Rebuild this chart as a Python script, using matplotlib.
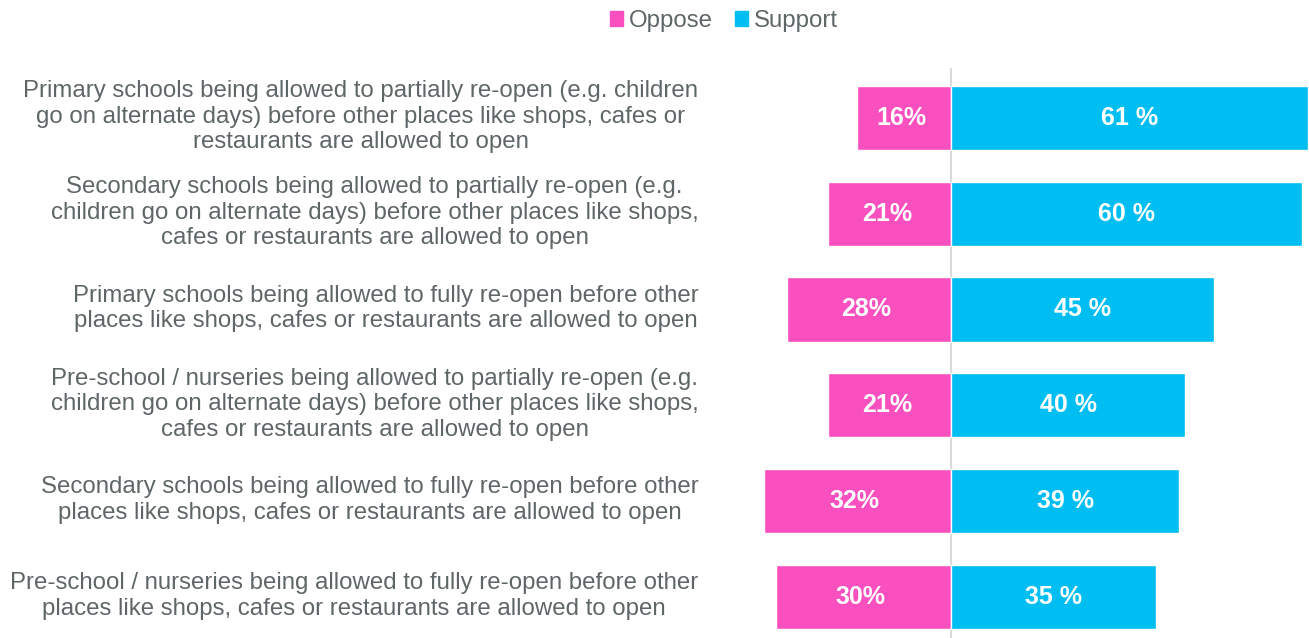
import matplotlib
matplotlib.use('Agg')
import matplotlib.pyplot as plt
from matplotlib.patches import Patch

plt.rcParams['font.family'] = ['Liberation Sans', 'DejaVu Sans']

labels = [
    "Primary schools being allowed to partially re-open (e.g. children\ngo on alternate days) before other places like shops, cafes or\nrestaurants are allowed to open",
    "Secondary schools being allowed to partially re-open (e.g.\nchildren go on alternate days) before other places like shops,\ncafes or restaurants are allowed to open",
    "Primary schools being allowed to fully re-open before other\nplaces like shops, cafes or restaurants are allowed to open",
    "Pre-school / nurseries being allowed to partially re-open (e.g.\nchildren go on alternate days) before other places like shops,\ncafes or restaurants are allowed to open",
    "Secondary schools being allowed to fully re-open before other\nplaces like shops, cafes or restaurants are allowed to open",
    "Pre-school / nurseries being allowed to fully re-open before other\nplaces like shops, cafes or restaurants are allowed to open",
]
oppose = [16, 21, 28, 21, 32, 30]
support = [61, 60, 45, 40, 39, 35]

pink = '#f94fbf'
blue = '#00bdf2'
grey = '#5f6668'

W, H = 1309, 638
fig = plt.figure(figsize=(W / 100, H / 100), dpi=100)
ax = fig.add_axes([720 / W, 0, 589 / W, 570 / H])

y = list(range(len(labels)))
ax.barh(y, [-v for v in oppose], height=0.67, color=pink, edgecolor='white', linewidth=1)
ax.barh(y, support, height=0.67, color=blue, edgecolor='white', linewidth=1)
ax.axvline(0, color='#d9d9d9', linewidth=1.5, zorder=0)

for i in y:
    ax.text(-oppose[i] / 2 - 0.5, i, f"{oppose[i]}%", ha='center', va='center',
            color='white', fontsize=18, fontweight='bold')
    ax.text(support[i] / 2, i, f"{support[i]} %", ha='center', va='center',
            color='white', fontsize=18, fontweight='bold')
    ax.text(-43.2, i - 0.01, labels[i], ha='right', va='center', multialignment='center',
            color=grey, fontsize=17.3, linespacing=1.2)

ax.set_xlim(-39.5, 61.2)
ax.set_ylim(5.43, -0.52)
ax.axis('off')

handles = [Patch(color=pink, label='Oppose'), Patch(color=blue, label='Support')]
fig.legend(handles=handles, loc='center', bbox_to_anchor=(724 / W, 1 - 21 / H), ncol=2,
           frameon=False, fontsize=17.3, handlelength=0.55, handleheight=0.55,
           handletextpad=0.25, columnspacing=0.9, labelcolor=grey)

fig.savefig('out.png', dpi=100)
